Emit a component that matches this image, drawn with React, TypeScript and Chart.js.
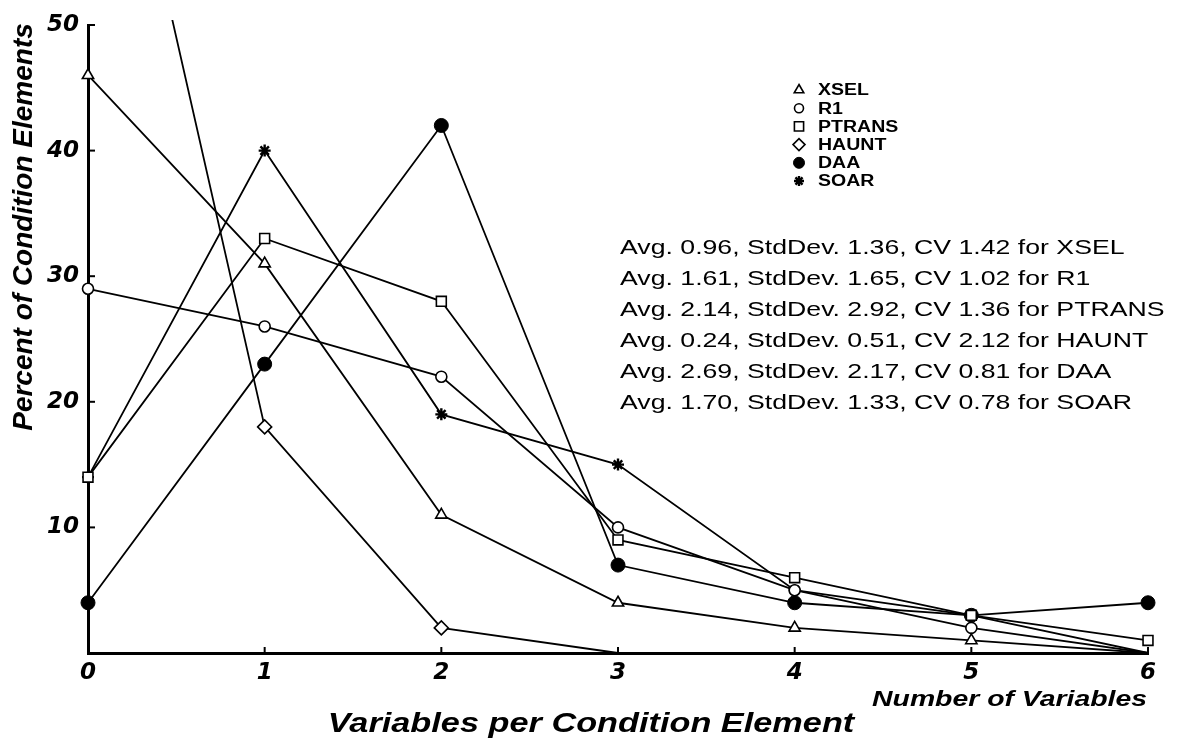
import React, { useEffect, useRef } from "react";
import { Chart, registerables } from "chart.js";
import { drawPoint } from "chart.js/helpers";

Chart.register(...registerables);

// ---- data ----
const categories = ["0", "1", "2", "3", "4", "5", "6"];
const seriesNames = ["XSEL", "R1", "PTRANS", "HAUNT", "DAA", "SOAR"];
const xselValues = [46, 31, 11, 4, 2, 1, 0];
const r1Values = [29, 26, 22, 10, 5, 2, 0];
const ptransValues = [14, 33, 28, 9, 6, 3, 1];
const hauntValues = [80, 18, 2, 0, 0, 0, 0];
const daaValues = [4, 23, 42, 7, 4, 3, 4];
const soarValues = [14, 40, 19, 15, 5, 3, 0];
const yTickValues = [10, 20, 30, 40, 50];
const statsLines = [
  "Avg. 0.96, StdDev. 1.36, CV 1.42 for XSEL",
  "Avg. 1.61, StdDev. 1.65, CV 1.02 for R1",
  "Avg. 2.14, StdDev. 2.92, CV 1.36 for PTRANS",
  "Avg. 0.24, StdDev. 0.51, CV 2.12 for HAUNT",
  "Avg. 2.69, StdDev. 2.17, CV 0.81 for DAA",
  "Avg. 1.70, StdDev. 1.33, CV 0.78 for SOAR",
];
const yTitle = "Percent of Condition Elements";
const xTitle = "Variables per Condition Element";
const xSubTitle = "Number of Variables";

const SANS = '"Liberation Sans", Arial, Helvetica, sans-serif';

type Marker = { style: string; radius: number; fill: string; bw: number; lr: number };
const markers: Marker[] = [
  { style: "triangle", radius: 6.5, fill: "#fff", bw: 1.6, lr: 5.5 },
  { style: "circle", radius: 5.5, fill: "#fff", bw: 1.6, lr: 4.5 },
  { style: "rect", radius: 7, fill: "#fff", bw: 1.6, lr: 6.5 },
  { style: "rectRot", radius: 7, fill: "#fff", bw: 1.6, lr: 6 },
  { style: "circle", radius: 7, fill: "#000", bw: 1, lr: 5.5 },
  { style: "star", radius: 6, fill: "#000", bw: 2.4, lr: 5 },
];
const seriesValues = [xselValues, r1Values, ptransValues, hauntValues, daaValues, soarValues];

function stretchText(
  ctx: CanvasRenderingContext2D,
  text: string,
  x: number,
  y: number,
  font: string,
  sx: number,
  align: CanvasTextAlign,
  baseline: CanvasTextBaseline
) {
  ctx.save();
  ctx.font = font;
  ctx.textAlign = align;
  ctx.textBaseline = baseline;
  ctx.fillStyle = "#000";
  ctx.translate(x, y);
  ctx.scale(sx, 1);
  ctx.fillText(text, 0, 0);
  ctx.restore();
}

const decorPlugin = {
  id: "decor",
  afterDraw(chart: any) {
    const ctx: CanvasRenderingContext2D = chart.ctx;
    const xs = chart.scales.x;
    const ys = chart.scales.y;
    const area = chart.chartArea;
    ctx.save();
    ctx.strokeStyle = "#000";
    ctx.lineWidth = 2;
    // inside tick marks on y axis
    for (const v of yTickValues) {
      const py = ys.getPixelForValue(v);
      ctx.beginPath();
      ctx.moveTo(area.left, py);
      ctx.lineTo(area.left + 7, py);
      ctx.stroke();
    }
    // inside tick marks on x axis
    for (let i = 1; i < categories.length; i++) {
      const px = xs.getPixelForValue(i);
      ctx.beginPath();
      ctx.moveTo(px, area.bottom);
      ctx.lineTo(px, area.bottom - 6);
      ctx.stroke();
    }
    ctx.restore();

    // y axis title
    ctx.save();
    ctx.translate(32, 227);
    ctx.rotate(-Math.PI / 2);
    ctx.font = `italic bold 28px ${SANS}`;
    ctx.textAlign = "center";
    ctx.textBaseline = "alphabetic";
    ctx.fillStyle = "#000";
    ctx.fillText(yTitle, 0, 0);
    ctx.restore();

    // x titles
    stretchText(ctx, xTitle, 591, 732, `italic bold 27px ${SANS}`, 1.27, "center", "alphabetic");
    stretchText(ctx, xSubTitle, 1147, 706, `italic bold 22px ${SANS}`, 1.29, "right", "alphabetic");

    // legend
    for (let i = 0; i < seriesNames.length; i++) {
      const y = 90 + 18.2 * i;
      const m = markers[i];
      ctx.save();
      ctx.fillStyle = m.fill;
      ctx.strokeStyle = "#000";
      ctx.lineWidth = m.bw;
      drawPoint(ctx, { pointStyle: m.style, radius: m.lr, rotation: 0, borderWidth: m.bw } as any, 799, y);
      ctx.restore();
      stretchText(ctx, seriesNames[i], 818, y + 1, `bold 16px ${SANS}`, 1.22, "left", "middle");
    }

    // stats text
    for (let i = 0; i < statsLines.length; i++) {
      stretchText(ctx, statsLines[i], 620, 248 + 31 * i, `21px ${SANS}`, 1.27, "left", "middle");
    }
  },
};

export default function App() {
  const canvasRef = useRef<HTMLCanvasElement | null>(null);

  useEffect(() => {
    document.body.style.margin = "0";
    const canvas = canvasRef.current;
    if (!canvas) return;

    const datasets = seriesNames.map((name, i) => {
      const m = markers[i];
      const ds: any = {
        label: name,
        data: seriesValues[i],
        borderColor: "#000",
        borderWidth: 1.8,
        pointStyle: m.style,
        pointBackgroundColor: m.fill,
        pointBorderColor: "#000",
        pointBorderWidth: m.bw,
        pointRadius: (c: any) => (c.raw === 0 ? 0 : m.radius),
        pointHoverRadius: m.radius,
        tension: 0,
        fill: false,
      };
      if (name === "HAUNT") ds.clip = { left: 10, top: 5, right: 10, bottom: 10 };
      return ds;
    });

    const tickFont = { family: '"DejaVu Sans", sans-serif', size: 23, weight: "bold" as const, style: "italic" as const };

    const chart = new Chart(canvas, {
      type: "line",
      data: { labels: categories, datasets },
      options: {
        animation: false,
        responsive: false,
        devicePixelRatio: 1,
        layout: { padding: { top: 25, right: 34, left: 0, bottom: 0 } },
        plugins: { legend: { display: false }, tooltip: { enabled: false } },
        scales: {
          x: {
            type: "category",
            offset: false,
            grid: { display: false, drawTicks: false },
            border: { display: true, color: "#000", width: 3 },
            ticks: { color: "#000", font: tickFont, padding: 6, maxRotation: 0, autoSkip: false },
            afterFit: (s: any) => {
              s.height = 87;
            },
          },
          y: {
            type: "linear",
            min: 0,
            max: 50,
            grid: { display: false, drawTicks: false },
            border: { display: true, color: "#000", width: 3 },
            ticks: {
              color: "#000",
              font: tickFont,
              padding: 9,
              stepSize: 10,
              callback: (v: any) => (v === 0 ? "" : String(v)),
            },
            afterFit: (s: any) => {
              s.width = 88;
            },
          },
        },
      },
      plugins: [decorPlugin],
    });

    return () => chart.destroy();
  }, []);

  return (
    <div style={{ width: 1182, height: 740, background: "#fff" }}>
      <canvas ref={canvasRef} width={1182} height={740} style={{ display: "block" }} />
    </div>
  );
}
